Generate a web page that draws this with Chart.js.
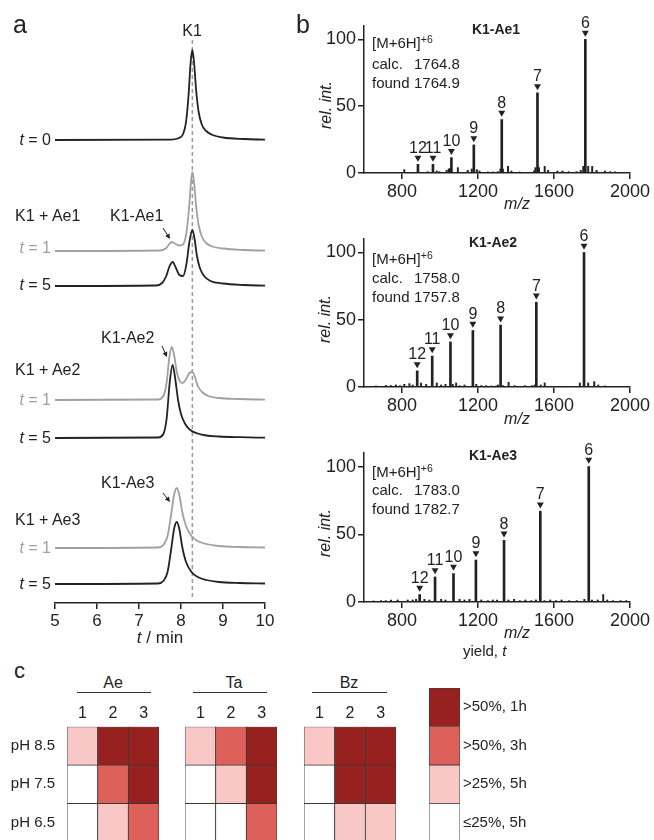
<!DOCTYPE html>
<html>
<head>
<meta charset="utf-8">
<title>K1 conjugation – HPLC, MS and yield map</title>
<script src="https://cdn.jsdelivr.net/npm/chart.js@4.4.1/dist/chart.umd.min.js"></script>
<style>
  html, body { margin: 0; padding: 0; background: #fff; }
  body { position: relative; width: 654px; height: 840px; overflow: hidden;
         font-family: "Liberation Sans", Arial, sans-serif; color: #222; }
  canvas { position: absolute; }
  .txt { position: absolute; line-height: 1; white-space: nowrap; }
  .rule { position: absolute; height: 0; border-top: 1.5px solid #333; }
  .lab { display: inline-block; width: 42px; }
  sup { font-size: 0.7em; vertical-align: 0.5em; line-height: 0; }
</style>
</head>
<body>
<canvas id="chrom" width="280" height="650" style="left:0;top:0"></canvas>
<canvas id="ms1" width="364" height="201" style="left:290px;top:2px"></canvas>
<canvas id="ms2" width="364" height="202" style="left:290px;top:215px"></canvas>
<canvas id="ms3" width="364" height="203" style="left:290px;top:429px"></canvas>
<canvas id="heatAe" width="162" height="147" style="left:0;top:695px"></canvas>
<canvas id="heatTa" width="97" height="147" style="left:183px;top:695px"></canvas>
<canvas id="heatBz" width="97" height="147" style="left:302px;top:695px"></canvas>
<canvas id="heatKey" width="230" height="159" style="left:424px;top:683px"></canvas>
<div class="rule" style="left:77px;top:692px;width:74px"></div>
<div class="rule" style="left:193px;top:692px;width:74px"></div>
<div class="rule" style="left:312px;top:692px;width:75px"></div>

<script>
// ---- panel a: HPLC traces (retention time in min, signal) ----
const k1Time = [5, 7.7, 7.95, 8.05, 8.12, 8.18, 8.23, 8.27, 8.31, 8.36, 8.42, 8.5, 8.6, 8.75, 9.0, 9.5, 10];
const k1Signal = [0, 0.3, 2, 6, 18, 45, 78, 90, 78, 50, 28, 15, 9, 5, 2.5, 1, 0.3];

const ae1T1Time = [5, 7.5, 7.65, 7.72, 7.78, 7.85, 7.95, 8.03, 8.12, 8.19, 8.24, 8.27, 8.31, 8.36, 8.42, 8.5, 8.6, 8.75, 9.0, 9.5, 10];
const ae1T1Signal = [0, 0.5, 3, 7, 9, 7.5, 5.5, 6, 16, 42, 70, 79, 69, 45, 26, 14, 8, 4.5, 2.5, 1, 0.3];
const ae1T5Time = [5, 7.4, 7.55, 7.65, 7.72, 7.8, 7.88, 7.96, 8.05, 8.13, 8.2, 8.27, 8.32, 8.38, 8.45, 8.55, 8.7, 9.0, 9.5, 10];
const ae1T5Signal = [0, 0.5, 3, 10, 19, 24, 18, 11, 10, 22, 44, 56, 48, 30, 18, 10, 5, 2.5, 1, 0.3];

const ae2T1Time = [5, 7.45, 7.58, 7.66, 7.72, 7.78, 7.84, 7.9, 7.97, 8.04, 8.12, 8.2, 8.27, 8.33, 8.4, 8.5, 8.65, 8.9, 9.4, 10];
const ae2T1Signal = [0, 0.5, 4, 18, 42, 53, 44, 28, 19, 17, 21, 27, 28, 23, 14, 8, 4, 2, 1, 0.3];
const ae2T5Time = [5, 7.45, 7.58, 7.66, 7.73, 7.8, 7.86, 7.93, 8.0, 8.1, 8.22, 8.4, 8.6, 8.9, 9.4, 10];
const ae2T5Signal = [0, 0.5, 4, 20, 55, 73, 60, 38, 24, 14, 8, 4.5, 2.5, 1.5, 0.8, 0.3];

const ae3T1Time = [5, 7.45, 7.58, 7.68, 7.76, 7.84, 7.9, 7.96, 8.03, 8.12, 8.25, 8.4, 8.6, 8.9, 9.4, 10];
const ae3T1Signal = [0, 0.5, 3, 12, 32, 54, 60, 53, 36, 22, 12, 7, 4, 2, 1, 0.5];
const ae3T5Time = [5, 7.45, 7.58, 7.68, 7.76, 7.84, 7.9, 7.96, 8.03, 8.12, 8.25, 8.4, 8.6, 8.9, 9.4, 10];
const ae3T5Signal = [0, 0.5, 3, 12, 33, 56, 62, 55, 37, 22, 12, 7, 4, 2, 1, 0.5];

const k1RetentionTime = 8.27;
const timeTicks = [5, 6, 7, 8, 9, 10];

// ---- panel b: ESI-MS (m/z, relative intensity) ----
const chargeStates = [6, 7, 8, 9, 10, 11, 12];

const ae1PeakMz = [1765, 1513, 1325, 1178, 1060, 963, 884];
const ae1PeakInt = [100, 60, 40, 21, 11.5, 6.5, 6.5];
const ae1NoiseMz = [812, 935, 983, 997, 1035, 1046, 1053, 1094, 1146, 1167, 1194, 1208, 1252, 1278, 1305, 1318, 1331, 1358, 1376, 1419,
  1495, 1502, 1521, 1551, 1569, 1618, 1645, 1678, 1719, 1741, 1754, 1780, 1801, 1824, 1868, 1895, 1921];
const ae1NoiseInt = [2.5, 1, 1.5, 1, 2, 3, 3.5, 4, 2, 3, 2.5, 1.5, 0.8, 0.8, 1, 3, 3, 5, 1.5, 0.8,
  1.5, 4, 4, 5, 2, 1.5, 1.5, 1, 1, 2, 5, 5, 5, 2, 1.5, 1, 0.8];

const ae2PeakMz = [1758, 1507, 1319, 1173, 1055, 959, 880];
const ae2PeakInt = [100, 63, 46, 42, 33.5, 23, 12];
const ae2NoiseMz = [663, 715, 742, 768, 789, 812, 839, 856, 900, 927, 983, 1006, 1029, 1067, 1085, 1103, 1129, 1191, 1217, 1243,
  1270, 1296, 1305, 1331, 1361, 1393, 1446, 1484, 1498, 1530, 1551, 1640, 1736, 1780, 1812, 1833, 1868];
const ae2NoiseInt = [0.8, 1.2, 1, 1.5, 1, 2, 2.5, 1.5, 3, 2, 3, 1.5, 2, 2, 3, 1, 1.5, 2, 1, 1,
  0.8, 0.8, 1.5, 1, 3.5, 1, 1, 1, 1.5, 1.5, 3, 0.5, 3, 3, 4, 1.5, 0.8];

const ae3PeakMz = [1783, 1528, 1337, 1189, 1071, 974, 893];
const ae3PeakInt = [100, 67, 45.5, 31, 21, 18.5, 5.5];
const ae3NoiseMz = [650, 690, 715, 742, 777, 830, 856, 874, 918, 944, 1006, 1029, 1103, 1129, 1155, 1217, 1252, 1278, 1300, 1360,
  1390, 1420, 1450, 1480, 1505, 1550, 1580, 1610, 1640, 1680, 1720, 1760, 1800, 1830, 1859, 1880, 1910, 1950, 1980];
const ae3NoiseInt = [0.8, 1, 1, 1.5, 1.5, 1.5, 1.5, 2, 2, 1.5, 2, 1.5, 2, 1.5, 2, 1.5, 1, 1.5, 1.5, 1.5,
  2, 1, 1.5, 1, 1.5, 1, 1.5, 1, 1.5, 1, 1, 2, 1.5, 1.5, 5.5, 1.5, 1, 1, 1];

const mzTicks = [800, 1200, 1600, 2000];
const intTicks = [0, 50, 100];

// ---- panel c: yield class per pH row (8.5, 7.5, 6.5) and reagent 1-3 ----
// 3: >50% 1h, 2: >50% 3h, 1: >25% 5h, 0: <=25% 5h
const columnLabels = ['1', '2', '3'];
const phLabels = ['pH 8.5', 'pH 7.5', 'pH 6.5'];
const aeLevels = [[1, 3, 3], [0, 2, 3], [0, 1, 2]];
const taLevels = [[1, 2, 3], [0, 1, 3], [0, 0, 2]];
const bzLevels = [[1, 3, 3], [0, 3, 3], [0, 1, 1]];
const yieldLevels = [0, 1, 2, 3];
const yieldLabels = ['\u226425%, 5h', '>25%, 5h', '>50%, 3h', '>50%, 1h'];

// ---- styling ----
const ink = '#222';
const grey = '#a0a0a0';
const yieldColors = ['#ffffff', '#f9c8c6', '#de605a', '#96211e'];
const cellLine = '#3a3a3a';
const sans = '"Liberation Sans", Arial, sans-serif';

Chart.defaults.font.family = sans;
Chart.defaults.color = ink;

function addText(html, x, cy, size, opts = {}) {
  const d = document.createElement('div');
  d.className = 'txt';
  d.innerHTML = html;
  d.style.fontSize = size + 'px';
  d.style.top = (cy - size / 2) + 'px';
  if (opts.align === 'right') d.style.right = (654 - x) + 'px';
  else d.style.left = x + 'px';
  if (opts.align === 'center') d.style.transform = 'translateX(-50%)';
  if (opts.color) d.style.color = opts.color;
  if (opts.bold) d.style.fontWeight = 'bold';
  document.body.appendChild(d);
}

function addRotated(html, cx, cy, size) {
  const d = document.createElement('div');
  d.className = 'txt';
  d.innerHTML = html;
  d.style.fontSize = size + 'px';
  d.style.fontStyle = 'italic';
  d.style.left = cx + 'px';
  d.style.top = cy + 'px';
  d.style.transform = 'translate(-50%, -50%) rotate(-90deg)';
  document.body.appendChild(d);
}

// keep the plot area of the cell charts independent of tick label height
function noLabelPadding(s) {
  s.paddingTop = 0;
  s.paddingBottom = 0;
}

// ================= panel a =================
const traces = [
  { t: k1Time, s: k1Signal, base: 463, color: ink },
  { t: ae1T1Time, s: ae1T1Signal, base: 352, color: grey },
  { t: ae1T5Time, s: ae1T5Signal, base: 317, color: ink },
  { t: ae2T1Time, s: ae2T1Signal, base: 203, color: grey },
  { t: ae2T5Time, s: ae2T5Signal, base: 165, color: ink },
  { t: ae3T1Time, s: ae3T1Signal, base: 55, color: grey },
  { t: ae3T5Time, s: ae3T5Signal, base: 19, color: ink }
];

// arrows pointing at the product peaks (canvas pixels)
const arrowSegments = [[163, 228, 170, 239], [162, 346, 167, 357], [163, 493, 170, 502]];

const arrowPlugin = {
  id: 'arrows',
  afterDatasetsDraw(chart) {
    const ctx = chart.ctx;
    ctx.save();
    ctx.strokeStyle = ink;
    ctx.fillStyle = ink;
    ctx.lineWidth = 1;
    arrowSegments.forEach(([x1, y1, x2, y2]) => {
      const a = Math.atan2(y2 - y1, x2 - x1);
      ctx.beginPath();
      ctx.moveTo(x1, y1);
      ctx.lineTo(x2 - 3 * Math.cos(a), y2 - 3 * Math.sin(a));
      ctx.stroke();
      ctx.beginPath();
      ctx.moveTo(x2, y2);
      ctx.lineTo(x2 - 5 * Math.cos(a) + 2.5 * Math.sin(a), y2 - 5 * Math.sin(a) - 2.5 * Math.cos(a));
      ctx.lineTo(x2 - 5 * Math.cos(a) - 2.5 * Math.sin(a), y2 - 5 * Math.sin(a) + 2.5 * Math.cos(a));
      ctx.closePath();
      ctx.fill();
    });
    ctx.restore();
  }
};

new Chart(document.getElementById('chrom'), {
  type: 'line',
  data: {
    datasets: traces.map(tr => ({
      data: tr.t.map((x, i) => ({ x: x, y: tr.s[i] + tr.base })),
      borderColor: tr.color,
      borderWidth: 1.8,
      pointRadius: 0,
      cubicInterpolationMode: 'monotone',
      fill: false
    })).concat([{
      data: [{ x: k1RetentionTime, y: 6 }, { x: k1RetentionTime, y: 563 }],
      borderColor: '#9a9a9a',
      borderDash: [4, 3],
      borderWidth: 1.5,
      pointRadius: 0
    }])
  },
  options: {
    responsive: false,
    animation: false,
    events: [],
    layout: { padding: { left: 55, right: 15, top: 30, bottom: 0 } },
    plugins: { legend: { display: false }, tooltip: { enabled: false } },
    scales: {
      x: {
        type: 'linear', min: 5, max: 10,
        afterBuildTicks: s => { s.ticks = timeTicks.map(v => ({ value: v })); },
        ticks: { color: ink, font: { size: 17 }, padding: 2, callback: v => String(v) },
        grid: { drawOnChartArea: false, tickLength: 6, color: ink, lineWidth: 1.5 },
        border: { color: ink, width: 1.5 },
        afterFit: s => { s.height = 47; }
      },
      y: { display: false, min: 0, max: 573 }
    }
  },
  plugins: [arrowPlugin]
});

// ================= panel b =================
function makeChargeLabels(charges) {
  return {
    id: 'chargeLabels',
    afterDatasetsDraw(chart) {
      const meta = chart.getDatasetMeta(0);
      const ctx = chart.ctx;
      ctx.save();
      ctx.fillStyle = ink;
      ctx.font = '16px ' + sans;
      ctx.textAlign = 'center';
      ctx.textBaseline = 'alphabetic';
      meta.data.forEach((pt, i) => ctx.fillText(String(charges[i]), pt.x, pt.y - 5));
      ctx.restore();
    }
  };
}

function drawSpectrum(id, peakMz, peakInt, noiseMz, noiseInt) {
  new Chart(document.getElementById(id), {
    type: 'bar',
    data: {
      datasets: [
        {
          type: 'scatter',
          data: peakMz.map((x, i) => ({ x: x, y: peakInt[i] + 5 })),
          pointStyle: 'triangle',
          pointRotation: 180,
          pointRadius: 4,
          pointBackgroundColor: ink,
          pointBorderWidth: 0,
          clip: false
        },
        {
          data: peakMz.map((x, i) => ({ x: x, y: peakInt[i] })),
          backgroundColor: ink, barThickness: 2, grouped: false
        },
        {
          data: noiseMz.map((x, i) => ({ x: x, y: noiseInt[i] })),
          backgroundColor: ink, barThickness: 1.3, grouped: false
        }
      ]
    },
    options: {
      responsive: false,
      animation: false,
      events: [],
      layout: { padding: { left: 0, right: 24, top: 24, bottom: 0 } },
      plugins: { legend: { display: false }, tooltip: { enabled: false } },
      scales: {
        x: {
          type: 'linear', min: 600, max: 2000, offset: false,
          afterBuildTicks: s => { s.ticks = mzTicks.map(v => ({ value: v })); },
          ticks: { color: ink, font: { size: 18 }, padding: 2, callback: v => String(v) },
          grid: { drawOnChartArea: false, tickLength: 6, color: ink, lineWidth: 1.5, offset: false },
          border: { color: ink, width: 1.5 },
          afterFit: s => { s.height = 30; }
        },
        y: {
          min: 0, max: 110,
          afterBuildTicks: s => { s.ticks = intTicks.map(v => ({ value: v })); },
          ticks: { color: ink, font: { size: 18 }, padding: 2, callback: v => String(v) },
          grid: { drawOnChartArea: false, tickLength: 6, color: ink, lineWidth: 1.5 },
          border: { color: ink, width: 1.5 },
          afterFit: s => { s.width = 74; }
        }
      }
    },
    plugins: [makeChargeLabels(chargeStates)]
  });
}

drawSpectrum('ms1', ae1PeakMz, ae1PeakInt, ae1NoiseMz, ae1NoiseInt);
drawSpectrum('ms2', ae2PeakMz, ae2PeakInt, ae2NoiseMz, ae2NoiseInt);
drawSpectrum('ms3', ae3PeakMz, ae3PeakInt, ae3NoiseMz, ae3NoiseInt);

// ================= panel c =================
function drawHeat(id, levels, showPh) {
  const rows = levels.slice().reverse(); // stack from pH 6.5 upwards
  new Chart(document.getElementById(id), {
    type: 'bar',
    data: {
      labels: columnLabels,
      datasets: rows.map(r => ({
        data: r.map(() => 1),
        backgroundColor: r.map(l => yieldColors[l]),
        borderColor: cellLine,
        borderWidth: 0.8,
        borderSkipped: false,
        barPercentage: 1,
        categoryPercentage: 1
      }))
    },
    options: {
      responsive: false,
      animation: false,
      events: [],
      layout: { padding: { left: showPh ? 0 : 2, right: 3, top: 0, bottom: 0 } },
      plugins: { legend: { display: false }, tooltip: { enabled: false } },
      scales: {
        x: {
          stacked: true, position: 'top',
          grid: { display: false, drawTicks: false }, border: { display: false },
          ticks: { color: ink, font: { size: 16 }, padding: 4, maxRotation: 0 },
          afterFit: s => { s.height = 31.7; }
        },
        y: {
          stacked: true, min: 0, max: 3, display: showPh,
          grid: { display: false, drawTicks: false }, border: { display: false },
          afterBuildTicks: s => { s.ticks = [0.5, 1.5, 2.5].map(v => ({ value: v })); },
          ticks: { color: ink, font: { size: 15 }, padding: 12,
                   callback: (v, i) => phLabels[2 - i] },
          afterFit: s => { s.width = showPh ? 67 : 0; noLabelPadding(s); }
        }
      }
    }
  });
}

drawHeat('heatAe', aeLevels, true);
drawHeat('heatTa', taLevels, false);
drawHeat('heatBz', bzLevels, false);

new Chart(document.getElementById('heatKey'), {
  type: 'bar',
  data: {
    labels: ['key'],
    datasets: yieldLevels.map(l => ({
      data: [1],
      backgroundColor: yieldColors[l],
      borderColor: cellLine,
      borderWidth: 0.8,
      borderSkipped: false,
      barPercentage: 1,
      categoryPercentage: 1
    }))
  },
  options: {
    responsive: false,
    animation: false,
    events: [],
    layout: { padding: { left: 5, right: 0, top: 5, bottom: 0 } },
    plugins: { legend: { display: false }, tooltip: { enabled: false } },
    scales: {
      x: { stacked: true, display: false },
      y: {
        stacked: true, position: 'right', min: 0, max: 4,
        grid: { display: false, drawTicks: false }, border: { display: false },
        afterBuildTicks: s => { s.ticks = [0.5, 1.5, 2.5, 3.5].map(v => ({ value: v })); },
        ticks: { color: ink, font: { size: 15 }, padding: 3,
                 callback: (v, i) => yieldLabels[i] },
        afterFit: s => { s.width = 194; noLabelPadding(s); }
      }
    }
  }
});

// ================= text =================
// panel letters
addText('a', 13, 24.8, 25);
addText('b', 296, 24.3, 25);
addText('c', 14, 671, 22);

// panel a labels
addText('K1', 192, 31, 16, { align: 'center' });
addText('<i>t</i> = 0', 51, 140, 16, { align: 'right' });
addText('K1 + Ae1', 15, 216, 16);
addText('K1-Ae1', 110, 216, 16);
addText('<i>t</i> = 1', 51, 248, 16, { align: 'right', color: grey });
addText('<i>t</i> = 5', 51, 285, 16, { align: 'right' });
addText('K1-Ae2', 101, 338, 16);
addText('K1 + Ae2', 15, 370, 16);
addText('<i>t</i> = 1', 51, 400, 16, { align: 'right', color: grey });
addText('<i>t</i> = 5', 51, 438, 16, { align: 'right' });
addText('K1-Ae3', 101, 483, 16);
addText('K1 + Ae3', 15, 520, 16);
addText('<i>t</i> = 1', 51, 548, 16, { align: 'right', color: grey });
addText('<i>t</i> = 5', 51, 584, 16, { align: 'right' });
addText('<i>t</i> / min', 160, 637, 17, { align: 'center' });

// panel b labels
addText('K1-Ae1', 496, 29, 14, { align: 'center', bold: true });
addText('[M+6H]<sup>+6</sup>', 372, 42, 15);
addText('<span class="lab">calc.</span>1764.8', 372, 63, 15);
addText('<span class="lab">found</span>1764.9', 372, 82, 15);
addText('<i>m/z</i>', 517, 204, 16, { align: 'center' });
addRotated('rel. int.', 326, 105, 16);

addText('K1-Ae2', 493, 242, 14, { align: 'center', bold: true });
addText('[M+6H]<sup>+6</sup>', 372, 258, 15);
addText('<span class="lab">calc.</span>1758.0', 372, 277, 15);
addText('<span class="lab">found</span>1757.8', 372, 296, 15);
addText('<i>m/z</i>', 517, 419, 16, { align: 'center' });
addRotated('rel. int.', 325, 319, 16);

addText('K1-Ae3', 493, 455, 14, { align: 'center', bold: true });
addText('[M+6H]<sup>+6</sup>', 372, 471, 15);
addText('<span class="lab">calc.</span>1783.0', 372, 489, 15);
addText('<span class="lab">found</span>1782.7', 372, 508, 15);
addText('<i>m/z</i>', 517, 633, 16, { align: 'center' });
addRotated('rel. int.', 325, 533, 16);

// panel c labels
addText('Ae', 113, 683, 16, { align: 'center' });
addText('Ta', 234, 683, 16, { align: 'center' });
addText('Bz', 349, 683, 16, { align: 'center' });
addText('yield, <i>t</i>', 463, 650, 15);
</script>
</body>
</html>
